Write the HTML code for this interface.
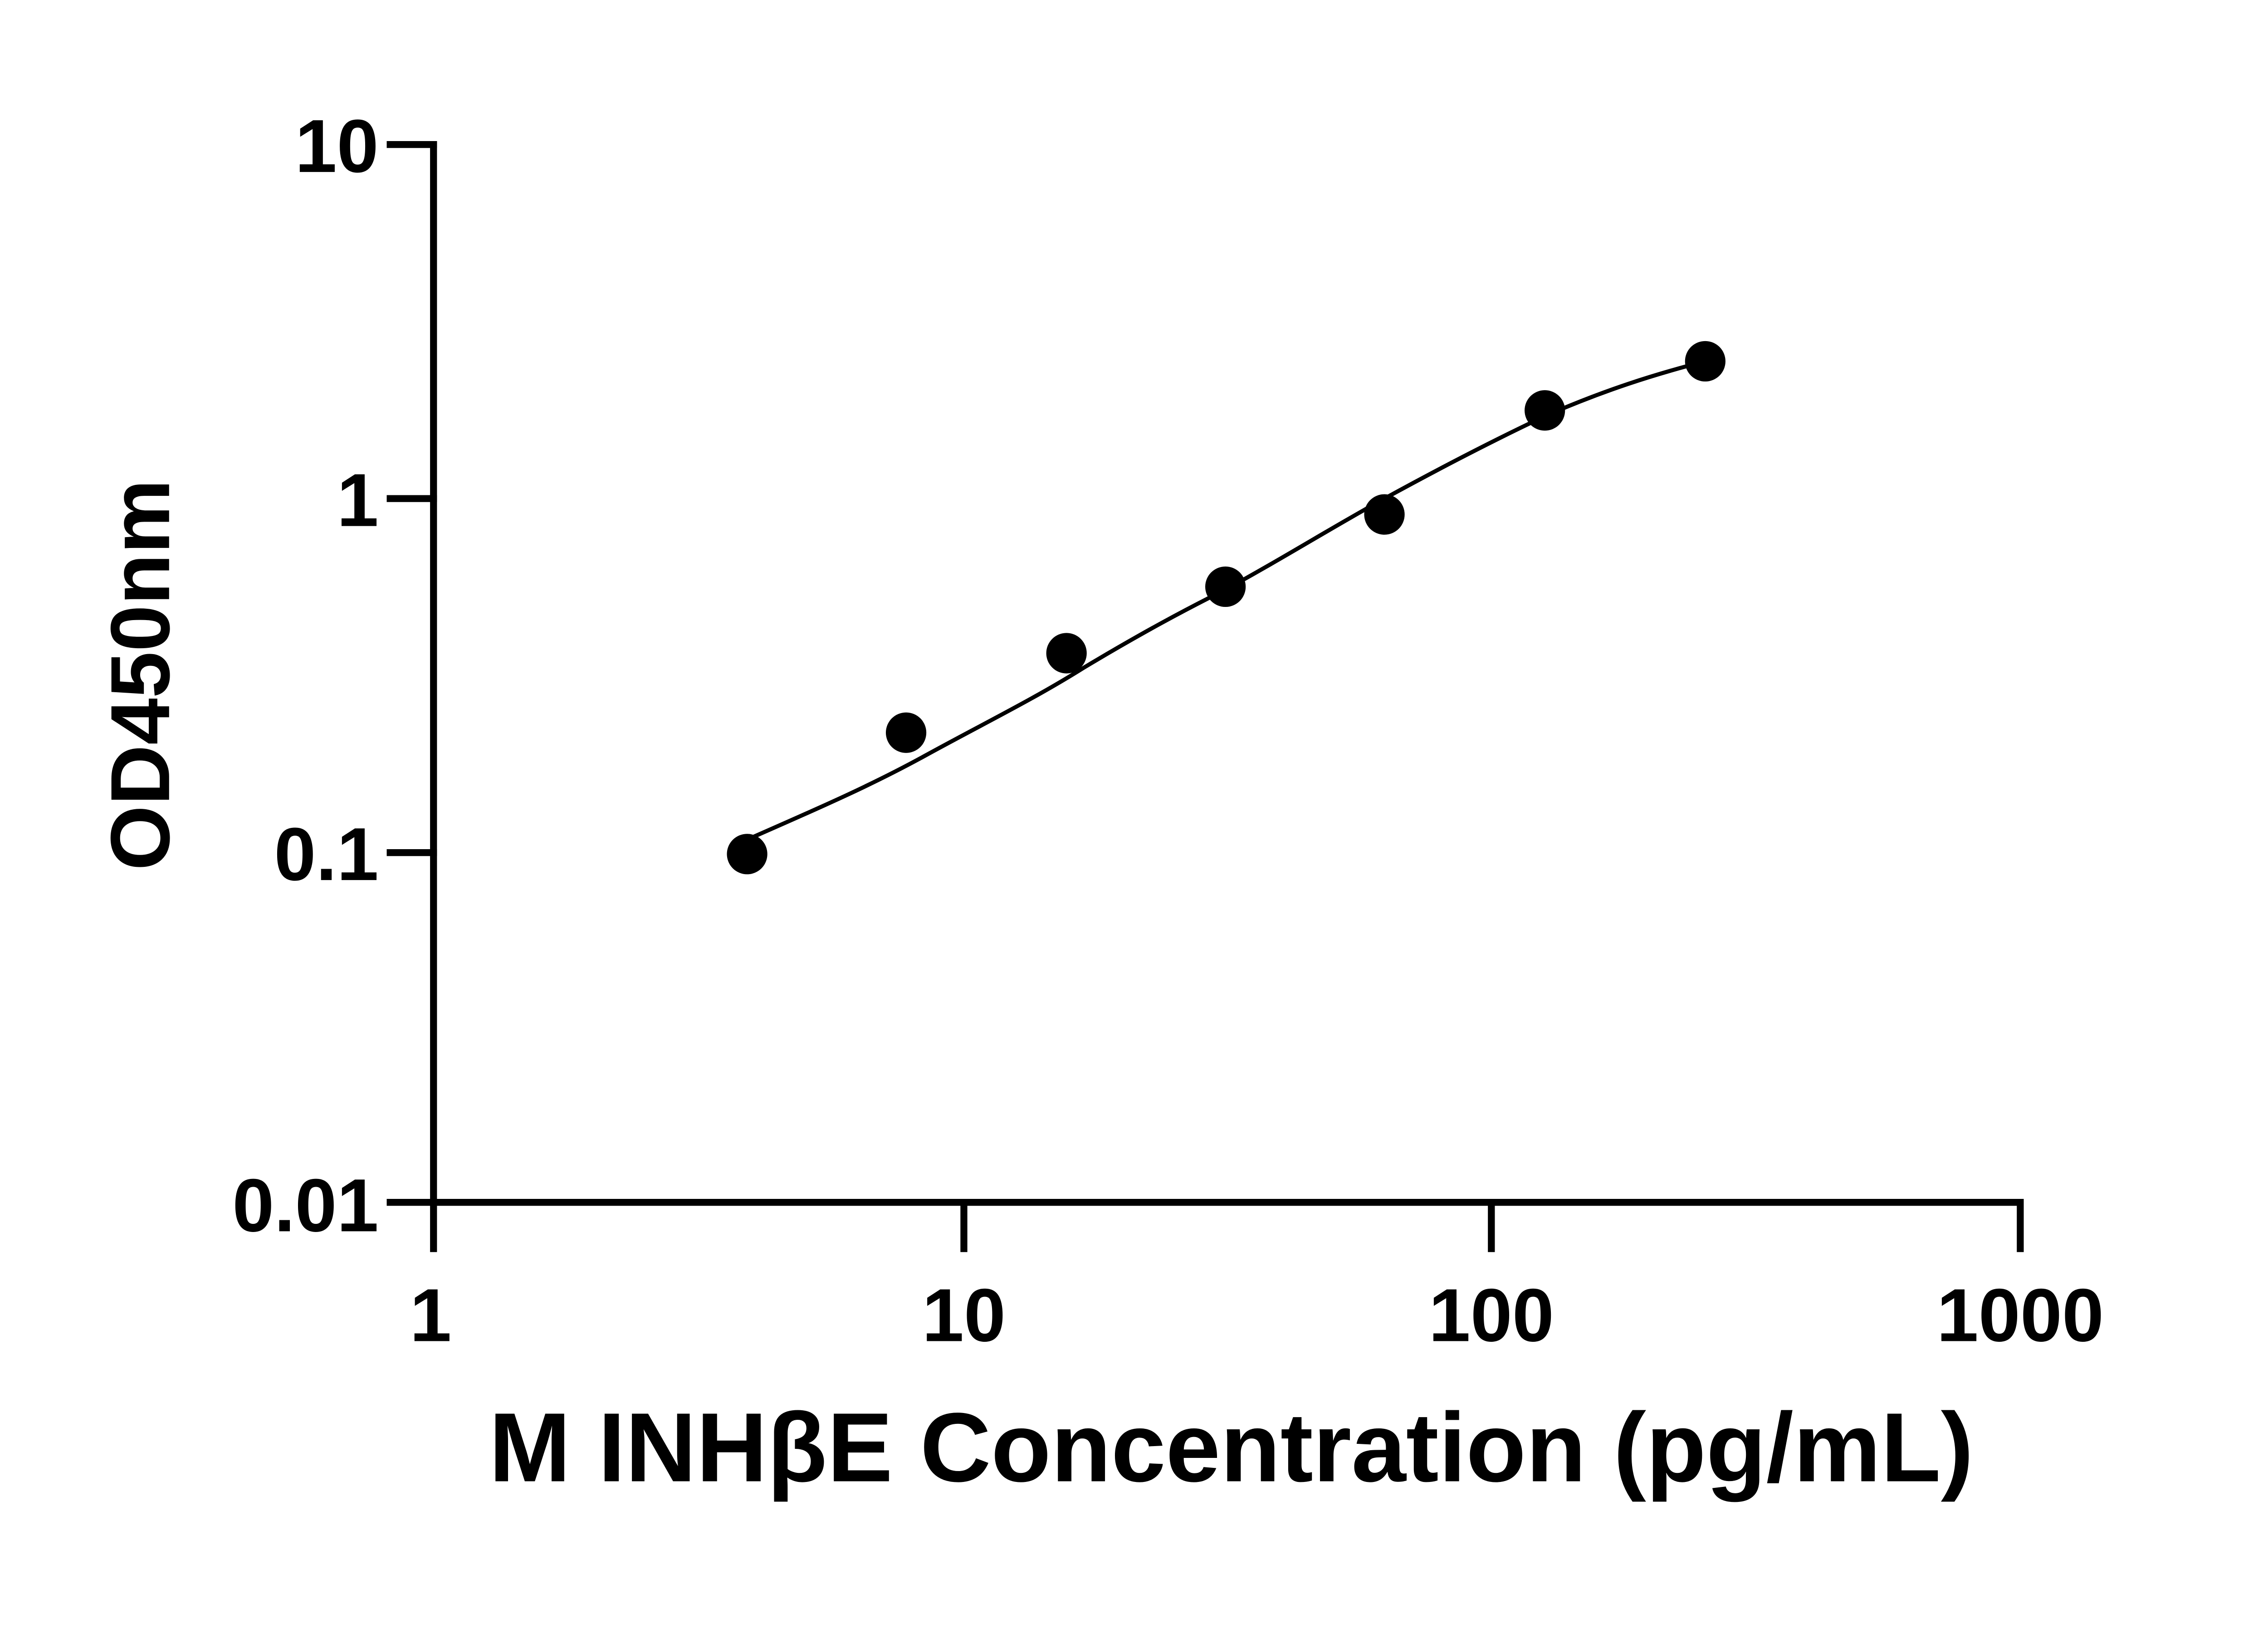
<!DOCTYPE html>
<html><head><meta charset="utf-8"><style>
html,body{margin:0;padding:0;background:#fff;}
svg{display:block;}
text{font-family:"Liberation Sans",sans-serif;font-weight:bold;fill:#000;}
</style></head><body>
<svg width="5142" height="3600" viewBox="0 0 1614 1130" preserveAspectRatio="none" xmlns="http://www.w3.org/2000/svg">
<g stroke="#000" stroke-width="4.8" fill="none" stroke-linecap="square">
<line x1="300" y1="100" x2="300" y2="832"/>
<line x1="300" y1="832" x2="1398" y2="832"/>
<line x1="270" y1="100" x2="300" y2="100"/>
<line x1="270" y1="345" x2="300" y2="345"/>
<line x1="270" y1="590" x2="300" y2="590"/>
<line x1="270" y1="832" x2="300" y2="832"/>
<line x1="300" y1="832" x2="300" y2="864"/>
<line x1="667" y1="832" x2="667" y2="864"/>
<line x1="1032" y1="832" x2="1032" y2="864"/>
<line x1="1398" y1="832" x2="1398" y2="864"/>
</g>
<g font-size="52" text-anchor="end">
<text x="262" y="119">10</text>
<text x="262" y="364">1</text>
<text x="262" y="609">0.1</text>
<text x="262" y="852">0.01</text>
</g>
<g font-size="52" text-anchor="middle">
<text x="298" y="928">1</text>
<text x="667" y="928">10</text>
<text x="1032" y="928">100</text>
<text x="1398" y="928">1000</text>
</g>
<text x="852" y="1025" font-size="68" text-anchor="middle">M INHβE Concentration (pg/mL)</text>
<text transform="translate(117,467) rotate(-90)" font-size="58" text-anchor="middle">OD450nm</text>
<path d="M517,581 C560,562 600,545 640,523 C680,501 715,484 750,462 C790,438 820,422 848,408 C890,385 920,366 958,345 C1000,322 1035,304 1069,288 C1110,270 1145,259 1180,250" stroke="#000" stroke-width="2.8" fill="none"/>
<g fill="#000">
<circle cx="517" cy="591" r="14"/>
<circle cx="627" cy="507" r="14"/>
<circle cx="738" cy="452" r="14"/>
<circle cx="848" cy="406" r="14"/>
<circle cx="958" cy="356" r="14"/>
<circle cx="1069" cy="284" r="14"/>
<circle cx="1180" cy="250" r="14"/>
</g>
</svg>
</body></html>
